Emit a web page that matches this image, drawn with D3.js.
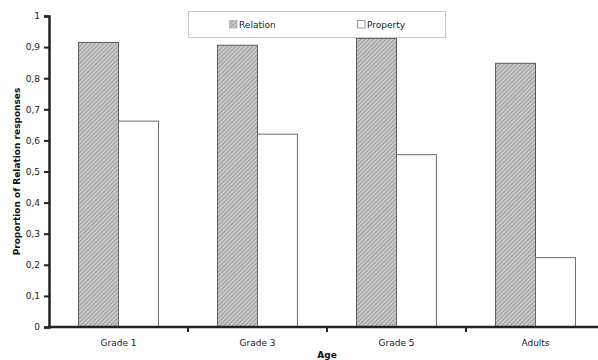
<!DOCTYPE html>
<html>
<head>
<meta charset="utf-8">
<script src="https://cdn.jsdelivr.net/npm/d3@7"></script>
<style>
  body { margin: 0; background: #fff; }
  text { font-family: "DejaVu Sans", Verdana, sans-serif; }
</style>
</head>
<body>
<div id="chart"></div>
<script>
// values
const ages = ["Grade 1", "Grade 3", "Grade 5", "Adults"];
const series = ["Relation", "Property"];
const relation = [0.915, 0.906, 0.928, 0.848];
const property = [0.662, 0.620, 0.554, 0.223];
const yTicks = [0, 0.1, 0.2, 0.3, 0.4, 0.5, 0.6, 0.7, 0.8, 0.9, 1];

const width = 598, height = 360;
const margin = {top: 16, left: 49, bottom: 33};

const svg = d3.select("#chart").append("svg")
    .attr("width", width)
    .attr("height", height);

// hatched fill for the Relation bars
const defs = svg.append("defs");
const pat = defs.append("pattern")
    .attr("id", "hatch")
    .attr("patternUnits", "userSpaceOnUse")
    .attr("width", 3).attr("height", 3)
    .attr("patternTransform", "rotate(45)");
pat.append("rect").attr("width", 3).attr("height", 3).attr("fill", "#cbcbcb");
pat.append("line").attr("x1", 0.6).attr("y1", 0).attr("x2", 0.6).attr("y2", 3)
    .attr("stroke", "#9a9a9a").attr("stroke-width", 1);

const rows = ages.map((a, i) => ({age: a, Relation: relation[i], Property: property[i]}));

// scales
const x = d3.scaleBand()
    .domain(ages)
    .range([margin.left, 605])
    .paddingInner(0).paddingOuter(0);

const xSub = d3.scaleBand()
    .domain(series)
    .range([0, x.bandwidth()])
    .paddingInner(0).paddingOuter(0.74);

const y = d3.scaleLinear()
    .domain([0, 1])
    .range([height - margin.bottom, margin.top]);

const fill = {Relation: "url(#hatch)", Property: "#fff"};
const stroke = {Relation: "#5a5a5a", Property: "#6a6a6a"};

// bars
const groups = svg.selectAll(".age")
    .data(rows)
    .join("g")
    .attr("class", "age")
    .attr("transform", d => "translate(" + x(d.age) + ",0)");

groups.selectAll("rect")
    .data(d => series.map(s => ({key: s, value: d[s]})))
    .join("rect")
    .attr("x", d => xSub(d.key))
    .attr("y", d => y(d.value))
    .attr("width", xSub.bandwidth())
    .attr("height", d => y(0) - y(d.value))
    .attr("fill", d => fill[d.key])
    .attr("stroke", d => stroke[d.key])
    .attr("stroke-width", 1);

// y axis
const comma = d3.formatLocale({decimal: ",", thousands: ".", grouping: [3], currency: ["", ""]});
const yAxis = svg.append("g")
    .attr("transform", "translate(" + margin.left + ",0)")
    .call(d3.axisLeft(y).tickValues(yTicks).tickSize(5).tickPadding(4).tickFormat(comma.format("~g")));
yAxis.select(".domain").attr("stroke", "#222").attr("stroke-width", 2.5);
yAxis.selectAll(".tick line").attr("stroke", "#222").attr("stroke-width", 2);
yAxis.selectAll(".tick text")
    .attr("font-size", 9).attr("fill", "#222")
    .style("font-family", "DejaVu Sans, Verdana, sans-serif");

// x axis: ticks between categories, labels in the middle
const bounds = ages.map(a => x(a)).concat([x.range()[1]]);
const xAxis = svg.append("g").attr("transform", "translate(0," + y(0) + ")");
xAxis.append("line")
    .attr("x1", margin.left - 1).attr("x2", x.range()[1])
    .attr("stroke", "#222").attr("stroke-width", 2.5);
xAxis.selectAll(".xtick")
    .data(bounds.slice(1))
    .join("line")
    .attr("class", "xtick")
    .attr("x1", d => d).attr("x2", d => d)
    .attr("y1", 0).attr("y2", 5)
    .attr("stroke", "#222").attr("stroke-width", 2);
xAxis.selectAll(".xlabel")
    .data(ages)
    .join("text")
    .attr("class", "xlabel")
    .attr("x", d => x(d) + x.bandwidth() / 2)
    .attr("y", 19)
    .attr("text-anchor", "middle")
    .attr("font-size", 9)
    .attr("fill", "#222")
    .text(d => d);

// axis titles
svg.append("text")
    .attr("transform", "translate(20," + ((y(0) + y(1)) / 2) + ") rotate(-90)")
    .attr("text-anchor", "middle")
    .attr("font-size", 9)
    .attr("font-weight", "bold")
    .attr("fill", "#111")
    .text("Proportion of Relation responses");

svg.append("text")
    .attr("x", 327)
    .attr("y", 358)
    .attr("text-anchor", "middle")
    .attr("font-size", 9)
    .attr("font-weight", "bold")
    .attr("fill", "#111")
    .text("Age");

// legend
const legend = svg.append("g");
legend.append("rect")
    .attr("x", 188.5).attr("y", 11.5)
    .attr("width", 257).attr("height", 26)
    .attr("fill", "#fff")
    .attr("stroke", "#c8c8c8");

const legendX = {Relation: 229, Property: 357};
const item = legend.selectAll(".item")
    .data(series)
    .join("g")
    .attr("class", "item")
    .attr("transform", d => "translate(" + legendX[d] + ",20)");
item.append("rect")
    .attr("x", 0.5).attr("y", 0.5)
    .attr("width", 7.5).attr("height", 7.5)
    .attr("fill", d => fill[d])
    .attr("stroke", d => d === "Relation" ? "#b8b8b8" : "#999");
item.append("text")
    .attr("x", 10)
    .attr("y", 7.5)
    .attr("font-size", 9)
    .attr("fill", "#222")
    .text(d => d);
</script>
</body>
</html>
